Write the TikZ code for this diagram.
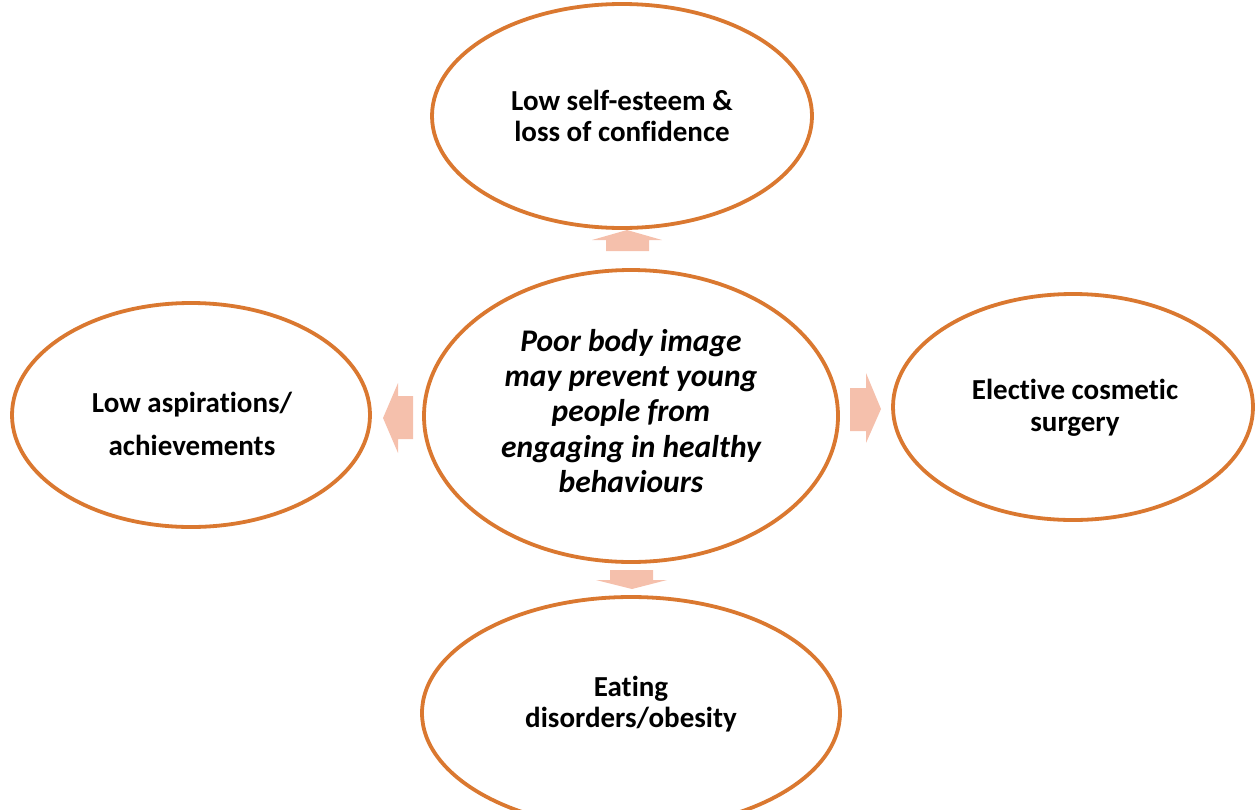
\documentclass[tikz,border=0pt]{standalone}
\usepackage{fontspec}
\setmainfont[Ligatures=NoCommon]{Carlito}
\usetikzlibrary{shapes.geometric}
\definecolor{ringorange}{RGB}{218,120,48}
\definecolor{arrowpink}{RGB}{245,192,172}
\begin{document}
\begin{tikzpicture}[x=1pt,y=-1pt,
  bubble/.style={ellipse,draw=ringorange,line width=3.8pt,fill=white,inner sep=0pt},
  caption/.style={align=center,font=\bfseries\fontsize{29}{31.5}\selectfont},
  maincaption/.style={align=center,font=\bfseries\itshape\fontsize{31.5}{35.2}\selectfont},
  blockarrow/.style={fill=arrowpink,draw=none}]
\useasboundingbox (0,0) rectangle (1255,809);
\begin{scope}
\clip (0,0) rectangle (1255,809);
% ellipses
\node[bubble,minimum width=380pt,minimum height=224pt] (top) at (622,116) {};
\node[bubble,minimum width=414pt,minimum height=292pt] (hub) at (631,416) {};
\node[bubble,minimum width=358pt,minimum height=224pt] (left) at (191,415) {};
\node[bubble,minimum width=360pt,minimum height=226pt] (right) at (1073,407) {};
\node[bubble,minimum width=418pt,minimum height=232pt] (bottom) at (631,713) {};
\end{scope}
% captions
\node[caption] (toptxt) at (622,116) {Low self-esteem \&\\loss of confidence};
\node[caption] (lefttxt) at (192,424) {Low aspirations/\\[12pt]achievements};
\node[caption] (righttxt) at (1075,408) {Elective cosmetic\\surgery};
\node[caption] (bottomtxt) at (631,704) {Eating\\disorders/obesity};
\node[maincaption] (hubtxt) at (631,411) {Poor body image\\may prevent young\\people from\\engaging in healthy\\behaviours};
% block arrows from the hub
\coordinate (upA) at (627,230);
\filldraw[blockarrow] (upA) -- (662,240) -- (649,240) -- (649,251) -- (606,251) -- (606,240) -- (592,240) -- cycle;
\coordinate (downA) at (632,589);
\filldraw[blockarrow] (downA) -- (667,580) -- (653,580) -- (653,570) -- (610,570) -- (610,580) -- (596,580) -- cycle;
\coordinate (leftA) at (383,418);
\filldraw[blockarrow] (leftA) -- (398,383) -- (398,396) -- (413,396) -- (413,439) -- (398,439) -- (398,453) -- cycle;
\coordinate (rightA) at (881,409);
\filldraw[blockarrow] (rightA) -- (866,373) -- (866,388) -- (850,388) -- (850,431) -- (866,431) -- (866,443) -- cycle;
\end{tikzpicture}
\end{document}
